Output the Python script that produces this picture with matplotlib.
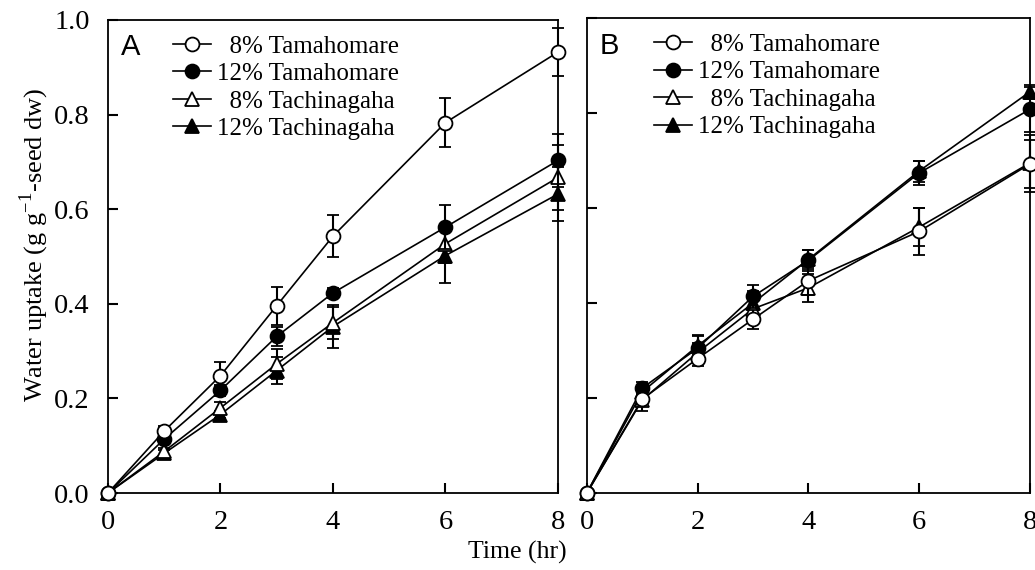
import numpy as np
import matplotlib
matplotlib.use('Agg')
import matplotlib.pyplot as plt

plt.rcParams['font.family'] = 'Liberation Serif'
plt.rcParams['mathtext.fontset'] = 'custom'
plt.rcParams['mathtext.rm'] = 'Liberation Serif'

# tempo de embebição (h)
tempo = [0, 1, 2, 3, 4, 6, 8]
rotulos = ['  8% Tamahomare', '12% Tamahomare', '  8% Tachinagaha', '12% Tachinagaha']

# Painel A
a_8tama = [0.0, 0.131, 0.248, 0.396, 0.543, 0.783, 0.932]
a_8tama_err = [0.0, 0.010, 0.028, 0.040, 0.044, 0.052, 0.050]
a_12tama = [0.0, 0.114, 0.217, 0.331, 0.423, 0.562, 0.703]
a_12tama_err = [0.0, 0.010, 0.012, 0.020, 0.010, 0.046, 0.056]
a_8tachi = [0.0, 0.088, 0.180, 0.273, 0.360, 0.527, 0.667]
a_8tachi_err = [0.0, 0.008, 0.012, 0.032, 0.034, 0.040, 0.068]
a_12tachi = [0.0, 0.084, 0.166, 0.259, 0.352, 0.502, 0.632]
a_12tachi_err = [0.0, 0.008, 0.008, 0.028, 0.045, 0.058, 0.057]

# Painel B
b_8tama = [0.0, 0.198, 0.283, 0.366, 0.447, 0.551, 0.693]
b_8tama_err = [0.0, 0.025, 0.015, 0.020, 0.030, 0.050, 0.050]
b_12tama = [0.0, 0.221, 0.305, 0.414, 0.490, 0.674, 0.808]
b_12tama_err = [0.0, 0.013, 0.028, 0.025, 0.022, 0.025, 0.048]
b_8tachi = [0.0, 0.196, 0.296, 0.388, 0.432, 0.560, 0.695]
b_8tachi_err = [0.0, 0.010, 0.020, 0.022, 0.030, 0.040, 0.060]
b_12tachi = [0.0, 0.213, 0.310, 0.400, 0.492, 0.678, 0.845]
b_12tachi_err = [0.0, 0.010, 0.020, 0.025, 0.020, 0.022, 0.015]

estilos = [('o', 'white'), ('o', 'black'), ('^', 'white'), ('^', 'black')]

fig = plt.figure(figsize=(10.35, 5.7), dpi=100)
axA = fig.add_axes([0.1043, 0.135, 0.4348, 0.830])
axB = fig.add_axes([0.567, 0.135, 0.428, 0.833])

paineis = [
    (axA, 'A', 0.145, [a_8tama, a_12tama, a_8tachi, a_12tachi],
     [a_8tama_err, a_12tama_err, a_8tachi_err, a_12tachi_err]),
    (axB, 'B', 0.152, [b_8tama, b_12tama, b_8tachi, b_12tachi],
     [b_8tama_err, b_12tama_err, b_8tachi_err, b_12tachi_err]),
]

for ax, letra, leg_x, series, erros in paineis:
    handles = [None] * 4
    # desenha de trás pra frente para os círculos abertos ficarem por cima
    for i in [3, 2, 1, 0]:
        mk, fc = estilos[i]
        eb = ax.errorbar(tempo, series[i], yerr=erros[i], color='black',
                         marker=mk, markerfacecolor=fc, markeredgecolor='black',
                         markersize=10 if mk == 'o' else 10.5, markeredgewidth=1.3,
                         linewidth=1.2, elinewidth=1.5, capsize=4.5, capthick=1.6,
                         clip_on=False, zorder=3 + (3 - i))
        for art in eb.lines[1] + eb.lines[2]:
            art.set_clip_on(False)
        handles[i] = eb.lines[0]
    ax.set_xlim(0, 8)
    ax.set_ylim(0, 1.0)
    ax.set_xticks([0, 2, 4, 6, 8])
    ax.set_yticks([0.0, 0.2, 0.4, 0.6, 0.8, 1.0])
    ax.tick_params(direction='in', length=7, width=1.5, labelsize=20.5,
                   top=False, right=False)
    ax.tick_params(axis='x', pad=12)
    ax.tick_params(axis='y', pad=13)
    for sp in ax.spines.values():
        sp.set_linewidth(1.3)
    ax.text(0.05, 0.942, letra, transform=ax.transAxes, fontsize=21,
            family='Liberation Sans', ha='center', va='center')
    ax.legend(handles, rotulos, loc='upper left', bbox_to_anchor=(leg_x, 0.968),
              frameon=False, fontsize=18, handlelength=1.5, handletextpad=0.25,
              labelspacing=0.2, borderpad=0, borderaxespad=0)

axA.yaxis.set_major_formatter(matplotlib.ticker.FormatStrFormatter('%.1f'))
axB.set_yticklabels([])

fig.text(0.033, 0.57, 'Water uptake (g g$^{-1}$-seed dw)', rotation=90,
         ha='center', va='center', fontsize=19)
fig.text(0.5, 0.03, 'Time (hr)', ha='center', va='center', fontsize=18.5)

fig.savefig('out.png', dpi=100)
